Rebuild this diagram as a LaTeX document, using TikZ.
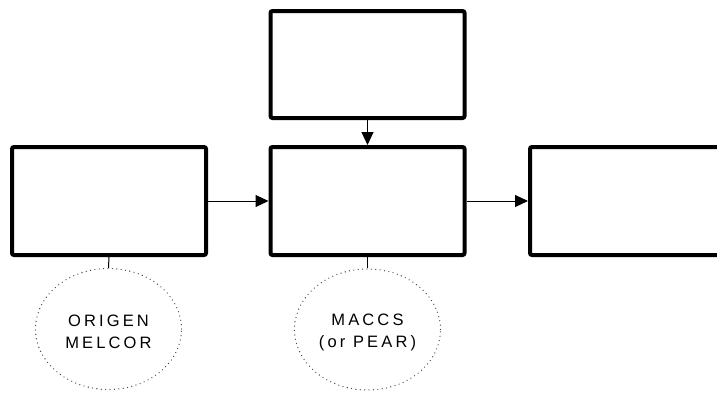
\documentclass[tikz,border=0pt]{standalone}
\usepackage{fontspec}
\setmainfont{Liberation Sans}[LetterSpace=19]
\usetikzlibrary{arrows.meta,shapes.geometric}
\tikzset{
  block/.style={draw, line width=4pt, rounded corners=2pt, minimum width=194pt, minimum height=108pt, inner sep=0pt, fill=white},
  tool/.style={ellipse, draw=black!75, line width=1.3pt, line cap=round, dash pattern=on 0pt off 4.4pt, minimum width=146pt, minimum height=121pt, inner sep=0pt},
  tooltext/.style={align=center, inner sep=0pt, font=\fontsize{16.5}{21.5}\selectfont},
  flow/.style={line width=1pt, -{Triangle[length=13pt,width=12pt]}},
  link/.style={line width=1pt}
}
\begin{document}
\begin{tikzpicture}[x=1pt,y=-1pt]
\useasboundingbox (0,0) rectangle (717,392);
\begin{scope}
\clip (0,0) rectangle (717,392);
\node[block] (left) at (109,201) {};
\node[block] (mid) at (367.5,201) {};
\node[block, minimum height=107pt] (top) at (367.5,64.5) {};
\node[block] (right) at (627,201) {};
\node[tool] (e1) at (108.5,329) {};
\node[tool] (e2) at (367.5,329.5) {};
\node[tooltext] (t1) at ([yshift=-3pt]e1.center) {ORIGEN\\MELCOR};
\node[tooltext] (t2) at ([yshift=-3pt]e2.center) {MACCS\\(or PEAR)};
\draw[flow] (left.east) -- (mid.west);
\draw[flow] (mid.east) -- (right.west);
\draw[flow] (top.south) -- (mid.north);
\draw[link] (left.south) -- (e1.north);
\draw[link] (mid.south) -- (e2.north);
\end{scope}
\end{tikzpicture}
\end{document}
